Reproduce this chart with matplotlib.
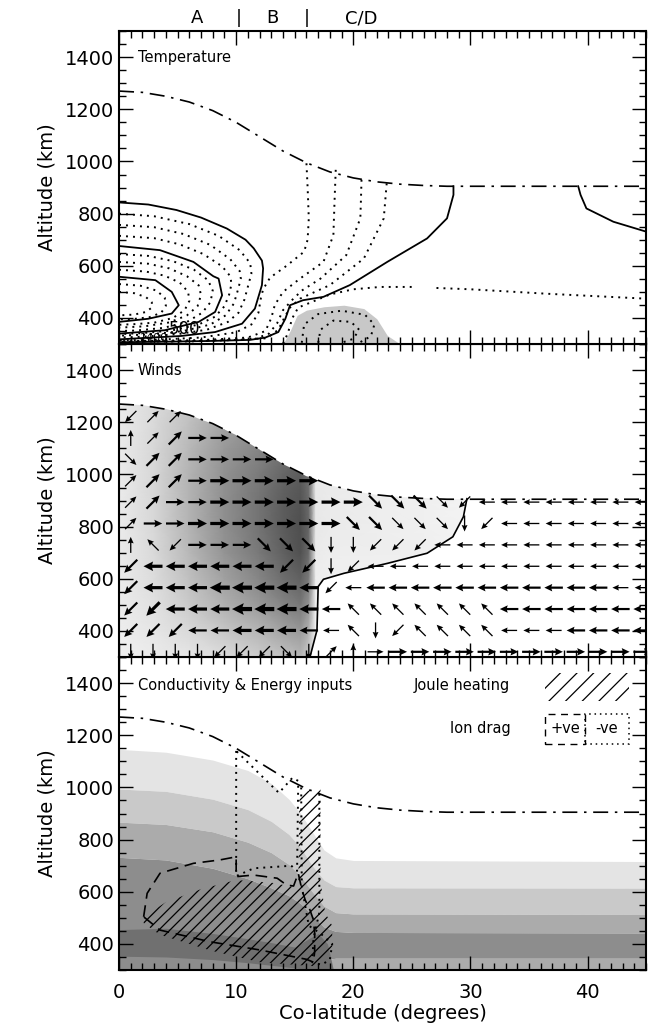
import numpy as np
import matplotlib
matplotlib.use('Agg')
import matplotlib.pyplot as plt
from matplotlib.patches import Polygon, Rectangle

plt.rcParams['font.family'] = ['DejaVu Sans']
plt.rcParams['hatch.linewidth'] = 0.9

# ---------------- data ----------------
# upper model boundary (dash-dot line)
top_x = [0, 2, 4, 6, 8, 10, 12, 14, 16, 18, 20, 22, 24, 26, 28, 30, 45]
top_alt = [1270, 1265, 1250, 1228, 1195, 1150, 1095, 1040, 995, 960, 937, 922, 913, 908, 905, 905, 905]

# temperature panel: solid contours
t_s1 = [(0, 843), (2.5, 835), (4.9, 814), (7, 785), (9.2, 743), (10.8, 700), (11.5, 667), (12.2, 620),
        (12.3, 590), (12.2, 526), (11.6, 436), (10.5, 378), (8.2, 346), (5.3, 331), (0, 318)]
t_s2 = [(0, 676), (3.5, 660), (6.35, 615), (8.05, 560), (8.5, 551), (8.8, 487), (8.2, 423), (6.8, 385),
        (3.9, 353), (0, 340)]
t_s3 = [(0, 558), (3.1, 545), (4.5, 500), (5.1, 449), (4.5, 417), (2.5, 397), (0, 385)]
t_s4 = [(28.55, 905), (28.55, 872), (28.0, 782), (26.3, 705), (22.9, 615), (19.7, 526), (17.45, 481),
        (15.7, 468), (14.6, 449), (14.2, 397), (13.6, 346), (12.5, 325), (11.2, 316), (8, 312), (4, 309),
        (0, 307)]
t_s5 = [(39.2, 905), (39.4, 872), (39.9, 820), (42.2, 769), (45, 731)]

# temperature panel: dotted contours
t_d1a = [(0, 800), (3, 790), (6, 760), (8.5, 715), (10.3, 660), (11.2, 610), (11.3, 570), (11.0, 520),
         (10.7, 470), (10.2, 420), (9.3, 385), (7.5, 355), (5, 338), (2, 328), (0, 325)]
t_d1b = [(0, 757), (3, 748), (5.5, 722), (7.8, 680), (9.5, 625), (10.3, 580), (10.4, 550), (10.1, 500),
         (9.8, 455), (9.1, 410), (7.8, 375), (5.5, 350), (2.5, 337), (0, 332)]
t_d1c = [(0, 715), (3, 706), (5.2, 682), (7.2, 645), (8.8, 598), (9.5, 560), (9.6, 530), (9.4, 490),
         (9.0, 445), (8.2, 405), (6.8, 375), (4.5, 352), (2, 342), (0, 338)]
t_d2a = [(0, 645), (2.5, 638), (4.6, 618), (6.4, 585), (7.6, 545), (8.0, 505), (7.8, 460), (7.1, 420),
         (5.8, 385), (3.8, 362), (1.5, 352), (0, 350)]
t_d2b = [(0, 615), (2.5, 608), (4.3, 590), (5.8, 560), (6.8, 525), (7.0, 488), (6.7, 445), (5.8, 410),
         (4.3, 383), (2.2, 368), (0, 363)]
t_d2c = [(0, 585), (2.3, 578), (3.9, 562), (5.2, 535), (5.9, 500), (6.0, 465), (5.6, 430), (4.6, 400),
         (3, 382), (1.2, 376), (0, 374)]
t_d3a = [(0, 530), (1.8, 524), (3.2, 505), (3.9, 478), (4.0, 447), (3.6, 420), (2.6, 403), (1.2, 396), (0, 395)]
t_d3b = [(0, 500), (1.3, 495), (2.3, 480), (2.8, 460), (2.8, 440), (2.3, 423), (1.3, 413), (0, 410)]
t_D1 = [(16.0, 993), (16.1, 900), (16.2, 782), (16.1, 700), (15.8, 654), (14.3, 600), (12.9, 555),
        (12.3, 510), (12.1, 474), (11.9, 420), (11.3, 375), (10, 345), (7, 325), (3, 316), (0, 314)]
t_D2 = [(18.5, 968), (18.4, 850), (18.3, 718), (17.45, 615), (15.45, 551), (14.0, 500), (13.3, 450),
        (13.0, 400), (12.5, 350), (11, 325), (7, 315), (0, 311)]
t_D3 = [(20.7, 930), (20.65, 850), (20.6, 782), (19.4, 641), (17.2, 551), (15.6, 505), (14.8, 470),
        (14.0, 430), (13.5, 380), (12.8, 340), (11.5, 318), (6, 310), (0, 309)]
t_D4 = [(22.85, 916), (22.6, 782), (20.9, 628), (18.0, 526), (15.45, 474), (14.6, 440), (14.1, 400),
        (13.6, 355), (12.6, 322), (6, 311), (0, 310)]
t_D5a = [(14.0, 302), (14.4, 340), (14.8, 400), (15.3, 440), (16.5, 462), (18, 490), (20, 510),
         (22.3, 519), (25.4, 519)]
t_D5b = [(27.1, 515), (30, 510), (36.5, 493), (45, 474)]
t_loop1 = [(15.6, 305), (15.8, 375), (17, 415), (19, 428), (21, 412), (21.8, 375), (21.5, 330), (20.5, 305)]
t_loop2 = [(17, 305), (17.2, 355), (18.3, 390), (19.8, 385), (20.5, 355), (20, 320), (19, 305)]

# cold patch (grey fill)
cold_x = [14.0, 14.6, 15.2, 16.0, 17.5, 19.2, 20.9, 22.0, 22.9, 24.0]
cold_alt = [300, 350, 410, 430, 443, 449, 436, 397, 333, 300]

# winds panel: boundary of the flow region (solid line)
sep_x = [16.3, 16.9, 17.0, 17.45, 19.2, 22.9, 26.3, 28.5, 29.4, 29.7]
sep_alt = [300, 403, 570, 598, 621, 659, 698, 761, 838, 907]

# winds panel: grey shading (1 = white)
shade_x = [0, 3, 6, 9, 12, 14, 15.5, 16.2, 16.8, 18, 22, 26, 30]
shade_alt = [300, 400, 500, 600, 700, 800, 900, 1000, 1100, 1200, 1300]
shade = [
    [.94, .92, .90, .86, .80, .76, .72, .80, .96, .96, .96, .96, .96],
    [.93, .90, .85, .78, .71, .64, .60, .70, .95, .96, .96, .96, .96],
    [.92, .88, .79, .69, .60, .52, .47, .58, .94, .95, .96, .96, .96],
    [.92, .86, .75, .63, .52, .43, .38, .48, .93, .94, .95, .95, .96],
    [.92, .85, .72, .58, .47, .38, .32, .42, .92, .93, .93, .94, .95],
    [.92, .84, .70, .56, .45, .36, .31, .40, .91, .92, .93, .94, .95],
    [.92, .84, .70, .56, .45, .37, .33, .42, .91, .92, .93, .94, .95],
    [.92, .84, .70, .57, .48, .40, .36, .44, .92, .92, .94, .95, .96],
    [.92, .84, .72, .60, .52, .45, .42, .48, .92, .93, .95, .96, .96],
    [.92, .85, .75, .64, .56, .50, .47, .52, .92, .93, .95, .96, .96],
    [.92, .86, .78, .68, .60, .55, .52, .55, .92, .93, .95, .96, .96],
]

# winds: arrow grid (top row first); r,e,u,q,l,z,d,c = E,NE,N,NW,W,SW,S,SE
wind_x = [1.0, 2.9, 4.8, 6.7, 8.6, 10.5, 12.4, 14.3, 16.2, 18.1, 20.0, 21.9,
          23.8, 25.7, 27.6, 29.5, 31.4, 33.3, 35.2, 37.1, 39.0, 40.9, 42.8, 44.7]
wind_alt = [1222, 1140, 1058, 976, 894, 812, 730, 648, 566, 484, 402, 320]
wind_dir = [
    "zee.....................",
    "ueerr...................",
    "ceerrrr.................",
    "eeerrrrrr...............",
    "eerrrrrrrrrcccczllllllll",
    "errrrrrrrrcccccdzlllllll",
    "uqzrrrcccddzzzllllllllll",
    "zllllllzzdzlllllllllllll",
    "zllllllllzllllllllllllll",
    "zzllllllllqqqqqqqlllllll",
    "zzzlllllllqdzqqqqlllllll",
    "ddddzzzcdeurrrrrrrrrrrrr",
]
wind_mag = [
    "111.....................",
    "11222...................",
    "1222222.................",
    "122233333...............",
    "122233333332221111111111",
    "122333333322111111111111",
    "111222222111111111111111",
    "233333322111111111111111",
    "233344443112222222222211",
    "233334443211111112222222",
    "222223332111111111112222",
    "111111111111222222222222",
]

# conductivity bands
cond_x = [0, 4, 8, 11, 13, 14.5, 15.5, 16.5, 17.5, 18.5, 20, 45]
cond_e1 = [1146, 1135, 1105, 1065, 1015, 955, 900, 830, 760, 730, 720, 716]
cond_e2 = [994, 985, 955, 915, 870, 820, 770, 700, 645, 620, 615, 614]
cond_e3 = [867, 858, 830, 790, 750, 705, 660, 600, 545, 520, 515, 513]
cond_e4 = [732, 722, 690, 650, 615, 585, 555, 510, 465, 448, 444, 442]
cond_e5 = [298, 298, 298, 298, 298, 298, 305, 325, 340, 345, 345, 345]
dark_x = [0, 4, 8, 11, 13, 15, 16.2, 17.0, 17.8, 18.3]
dark_top = [455, 460, 440, 420, 405, 388, 420, 440, 400, 300]
dark_bot = [353, 350, 340, 328, 318, 308, 302, 300, 300, 300]

# Joule heating (hatched) and ion drag contours
joule_poly = [(2.1, 505), (4, 560), (7, 610), (10, 645), (13, 635), (15.3, 615), (15.4, 975), (16.3, 990),
              (17.2, 1000), (17.2, 640), (17.6, 520), (18.2, 470), (18.2, 390), (17.2, 330), (16.5, 315),
              (12, 330), (7.8, 375), (3.5, 435), (2.1, 480)]
drag_pos = [(2.1, 504), (2.4, 594), (3.5, 671), (6.35, 709), (8.6, 722), (10.0, 734), (10.0, 658),
            (11.5, 664), (13.5, 652), (14.3, 626), (14.9, 622), (15.3, 671), (15.6, 610), (15.9, 568),
            (16.3, 530), (16.6, 492), (16.7, 441), (16.7, 370), (16.6, 330), (16.0, 341), (12.0, 377),
            (7.8, 408), (3.5, 453), (2.1, 504)]
drag_neg1 = [(10.0, 1140), (10.0, 660), (11.5, 690), (13.5, 696), (14.7, 700), (15.2, 680), (15.3, 1025),
             (14.8, 1037), (13.65, 979), (10.0, 1140)]
drag_neg2 = [(15.55, 1000), (15.6, 620), (16.2, 470), (17.2, 440), (18.2, 400), (18.0, 340), (17.3, 320),
             (16.5, 330), (16.6, 420), (17.1, 520), (17.1, 990)]

# ---------------- figure ----------------
fig = plt.figure(figsize=(6.54, 10.36), dpi=100)
left, width, h = 0.182, 0.806, 0.3021
ax3 = fig.add_axes([left, 0.0637, width, h])
ax2 = fig.add_axes([left, 0.0637 + h, width, h])
ax1 = fig.add_axes([left, 0.0637 + 2 * h, width, h])

dashdot = (0, (9, 4, 1.5, 4))
dotted = (0, (1, 2.6))


def line(ax, pts, ls='-', lw=1.3):
    a = np.array(pts)
    ax.plot(a[:, 0], a[:, 1], color='k', ls=ls, lw=lw)


# --- Temperature ---
ax1.fill_between(cold_x, 300, cold_alt, color='#c8c8c8', lw=0)
for c in [t_s1, t_s2, t_s3, t_s4, t_s5]:
    line(ax1, c)
for c in [t_d1a, t_d1b, t_d1c, t_d2a, t_d2b, t_d2c, t_d3a, t_d3b, t_D1, t_D2, t_D3, t_D4,
          t_D5a, t_D5b, t_loop1, t_loop2]:
    line(ax1, c, ls=dotted, lw=1.4)
ax1.plot(top_x, top_alt, color='k', ls=dashdot, lw=1.2)
ax1.text(5.6, 356, '500', fontsize=12, ha='center', va='center')
ax1.text(3.0, 322, '1400', fontsize=8, ha='center', va='center')
ax1.text(1.6, 1400, 'Temperature', fontsize=10.5, va='center')

# --- Winds ---
X, Y = np.meshgrid(shade_x, shade_alt)
mesh = ax2.pcolormesh(X, Y, np.array(shade), shading='gouraud', cmap='gray', vmin=0, vmax=1)
clip = [(0, 300)] + [(x, a) for x, a in zip(top_x, top_alt) if x < sep_x[-1]] + \
       list(zip(sep_x[::-1], sep_alt[::-1]))
cp = Polygon(clip, closed=True, transform=ax2.transData, facecolor='none', edgecolor='none')
ax2.add_patch(cp)
mesh.set_clip_path(cp)
ax2.plot(top_x, top_alt, color='k', ls=dashdot, lw=1.2)
ax2.plot(sep_x, sep_alt, color='k', lw=1.2)

angle = {'r': 0, 'e': 45, 'u': 90, 'q': 135, 'l': 180, 'z': 225, 'd': 270, 'c': 315}
arrow_style = {1: (0.013, 0.16, 4.5, 5.0, 4.5), 2: (0.022, 0.185, 3.4, 3.6, 3.2),
               3: (0.032, 0.19, 3.0, 3.0, 2.7), 4: (0.042, 0.20, 2.8, 2.8, 2.5)}
for m, (w, L, hw, hl, ha) in arrow_style.items():
    xs, ys, us, vs = [], [], [], []
    for row_d, row_m, a in zip(wind_dir, wind_mag, wind_alt):
        for x, d, mm in zip(wind_x, row_d, row_m):
            if d == '.' or int(mm) != m:
                continue
            t = np.deg2rad(angle[d])
            xs.append(x)
            ys.append(a)
            us.append(np.cos(t))
            vs.append(np.sin(t))
    ax2.quiver(xs, ys, us, vs, angles='uv', scale_units='inches', scale=1 / L, units='inches',
               width=w, headwidth=hw, headlength=hl, headaxislength=ha, pivot='middle', color='k')
ax2.text(1.6, 1400, 'Winds', fontsize=10.5, va='center')

# --- Conductivity & Energy inputs ---
L1, L2, L3, L4, L5 = '#e4e4e4', '#c9c9c9', '#ababab', '#8d8d8d', '#707070'
ax3.fill_between(cond_x, cond_e2, cond_e1, color=L1, lw=0)
ax3.fill_between(cond_x, cond_e3, cond_e2, color=L2, lw=0)
ax3.fill_between(cond_x, cond_e4, cond_e3, color=L3, lw=0)
ax3.fill_between(cond_x, cond_e5, cond_e4, color=L4, lw=0)
ax3.fill_between(cond_x, 290, cond_e5, color=L3, lw=0)
ax3.fill_between(dark_x, dark_bot, dark_top, color=L5, lw=0)
ax3.add_patch(Polygon(joule_poly, closed=True, fill=False, hatch='///', edgecolor='k', lw=0))
line(ax3, drag_pos, ls=(0, (7, 4)), lw=1.2)
line(ax3, drag_neg1, ls=dotted, lw=1.4)
line(ax3, drag_neg2, ls=dotted, lw=1.4)
ax3.plot(top_x, top_alt, color='k', ls=dashdot, lw=1.2)
ax3.text(1.6, 1390, 'Conductivity & Energy inputs', fontsize=10.5, va='center')
ax3.text(33.4, 1390, 'Joule heating', fontsize=10.5, va='center', ha='right')
ax3.add_patch(Rectangle((36.4, 1330), 7.1, 110, fill=False, hatch='//', edgecolor='k', lw=0))
ax3.text(33.4, 1225, 'Ion drag', fontsize=10.5, va='center', ha='right')
ax3.add_patch(Rectangle((36.4, 1168), 3.4, 112, fill=False, edgecolor='k', lw=1.0, ls=(0, (5, 4))))
ax3.add_patch(Rectangle((39.8, 1168), 3.7, 112, fill=False, edgecolor='k', lw=1.1, ls=(0, (1, 2.5))))
ax3.text(38.1, 1225, '+ve', fontsize=10.5, va='center', ha='center')
ax3.text(41.65, 1225, '-ve', fontsize=10.5, va='center', ha='center')

# --- axes styling ---
for ax in (ax1, ax2, ax3):
    ax.set_xlim(0, 45)
    ax.set_ylim(300, 1500)
    ax.set_xticks([0, 10, 20, 30, 40])
    ax.set_xticks(np.arange(0, 46, 1), minor=True)
    ax.set_yticks([400, 600, 800, 1000, 1200, 1400])
    ax.set_yticks(np.arange(300, 1501, 50), minor=True)
    ax.tick_params(which='both', direction='in', top=True, right=True, width=1.0)
    ax.tick_params(which='major', length=10, labelsize=14)
    ax.tick_params(which='minor', length=5)
    ax.tick_params(axis='x', pad=9)
    for s in ax.spines.values():
        s.set_linewidth(1.5)
    ax.set_ylabel('Altitude (km)', fontsize=14, labelpad=6)
for ax in (ax1, ax2):
    ax.tick_params(labelbottom=False)
ax3.set_xlabel('Co-latitude (degrees)', fontsize=14, labelpad=2)

# region labels above the top panel
tr = ax1.get_xaxis_transform()
for x, s in [(6.7, 'A'), (10.2, '|'), (13.1, 'B'), (16.0, '|'), (20.7, 'C/D')]:
    ax1.text(x, 1.012, s, transform=tr, ha='center', va='bottom', fontsize=13)

fig.savefig('out.png', dpi=100)
